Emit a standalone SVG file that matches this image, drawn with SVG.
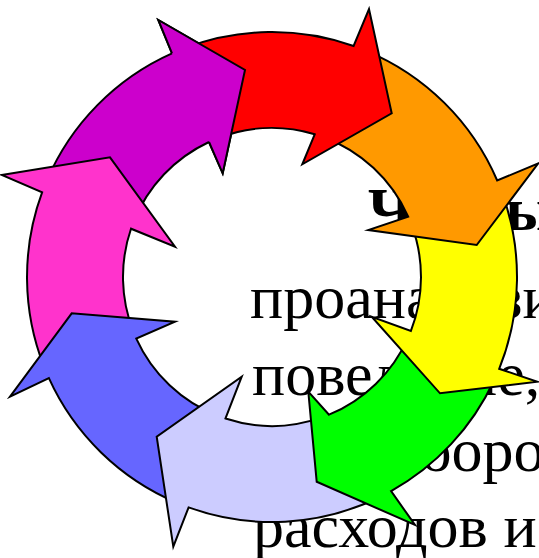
<svg xmlns="http://www.w3.org/2000/svg" width="539" height="558" viewBox="0 0 539 558">
<style>
.txt{font-family:"Liberation Serif","Times New Roman",serif;font-size:62px;fill:#000}
.b{font-weight:bold}
.arr path{stroke:#000;stroke-width:2;stroke-linejoin:miter;stroke-miterlimit:10}
</style>
<rect width="539" height="558" fill="#fff"/>
<g id="text">
<text class="txt b" x="368" y="230">Чтобы</text>
<text class="txt" x="250" y="318">проанализировать</text>
<text class="txt" x="252" y="395">поведение,</text>
<text class="txt" x="389" y="471">оборот</text>
<text class="txt" x="253" y="547">расходов и</text>
</g>
<g id="cycle" class="arr">
<g id="arrow-purple"><path fill="#CC00CC" d="M46.8 180.5 A245 245 0 0 1 172 53.4 L158.3 20 L245 70 L222.7 173.3 L209 142 A149 149 0 0 0 133.8 221.4"/></g>
<g id="arrow-pink"><path fill="#FF33CC" d="M43.9 366.4 A245 245 0 0 1 42.1 192.4 L1.7 175 L110 157.3 L175 246.7 L131 228.7 A149 149 0 0 0 133.3 331.4"/></g>
<g id="arrow-blue"><path fill="#6666FF" d="M176.7 502.7 A245 245 0 0 1 48.9 378.2 L10 396.7 L71.7 313.3 L175 321.7 L136.3 338.6 A149 149 0 0 0 218.1 415.9"/></g>
<g id="arrow-lavender"><path fill="#CCCCFF" d="M379.8 497 A245 245 0 0 1 188.6 507.4 L173.3 546.7 L156.7 436.7 L241.7 376.7 L225.5 418.5 A149 149 0 0 0 321.7 417.4"/></g>
<g id="arrow-green"><path fill="#00FF00" d="M494 380.5 A245 245 0 0 1 391.1 491.1 L415 525 L316.7 481.7 L308.3 391.7 L329 414.7 A149 149 0 0 0 407.9 338.1"/></g>
<g id="arrow-yellow"><path fill="#FFFF00" d="M501.9 192.4 A245 245 0 0 1 499.2 368.8 L537.5 381.7 L440 393.3 L371.7 316.7 L410.9 330.9 A149 149 0 0 0 411.2 223.9"/></g>
<g id="arrow-orange"><path fill="#FF9900" d="M365.6 50.6 A245 245 0 0 1 497.2 180.5 L538.3 163.3 L476.7 245 L368.3 230 L408.2 216.6 A149 149 0 0 0 322.1 136.7"/></g>
<g id="arrow-red"><path fill="#FF0000" d="M183.8 48.4 A245 245 0 0 1 353.6 46 L369 9 L391.7 113.3 L302.3 164.3 L314.7 134.3 A149 149 0 0 0 216.2 138.8"/></g>
<g id="arrow-purple-head"><path fill="#CC00CC" d="M172 53.4 L158.3 20 L245 70 L222.7 173.3 L209 142"/></g>
</g>
</svg>
